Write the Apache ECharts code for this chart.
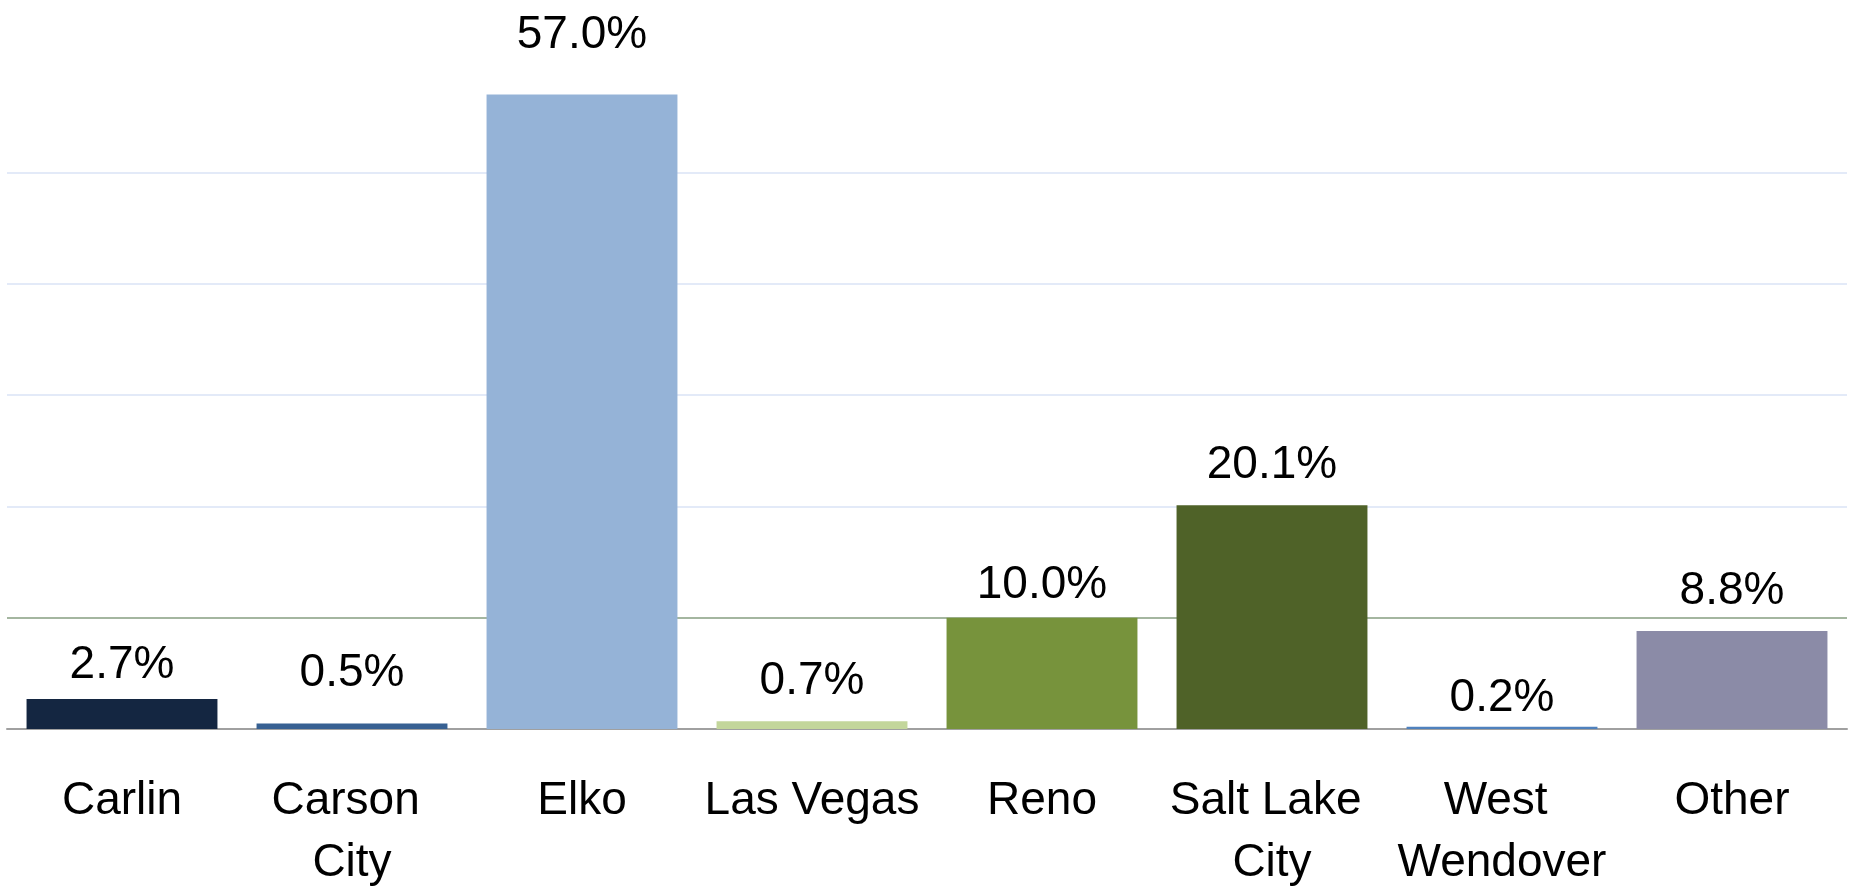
<!DOCTYPE html>
<html>
<head>
<meta charset="utf-8">
<script src="https://cdn.jsdelivr.net/npm/echarts@6/dist/echarts.min.js"></script>
<style>
html,body{margin:0;padding:0;background:#fff;}
#chart{width:1851px;height:886px;}
</style>
</head>
<body>
<div id="chart"></div>
<script>
const categories = ['Carlin', 'Carson City', 'Elko', 'Las Vegas', 'Reno', 'Salt Lake City', 'West Wendover', 'Other'];
const shares = [2.7, 0.5, 57.0, 0.7, 10.0, 20.1, 0.2, 8.8];
const yMin = 0, yMax = 60, yStep = 10;

// styling (not data)
const barColors = ['#142641', '#376092', '#95b3d7', '#c3d69b', '#77933c', '#4f6228', '#4f81bd', '#8b8ba7'];
const labelDistances = [11, 27, 36, 17, 9, 17, 5, 17];
const FONT = 'Liberation Sans';

const chart = echarts.init(document.getElementById('chart'));
chart.setOption({
  animation: false,
  backgroundColor: '#ffffff',
  grid: { left: 7, right: 4, top: 61, bottom: 157, containLabel: false, outerBoundsMode: 'none' },
  xAxis: {
    type: 'category',
    data: categories,
    axisLine: { show: true, lineStyle: { color: '#a0a0a0', width: 2 } },
    axisTick: { show: false },
    axisLabel: {
      interval: 0,
      margin: 41,
      fontFamily: FONT,
      fontSize: 46,
      lineHeight: 62,
      color: '#000',
      width: 228,
      overflow: 'break'
    }
  },
  yAxis: {
    type: 'value',
    min: yMin, max: yMax, interval: yStep,
    axisLine: { show: false },
    axisTick: { show: false },
    axisLabel: { show: false },
    splitLine: {
      show: true,
      lineStyle: {
        width: 2,
        color: ['rgba(0,0,0,0)', '#a4b6a0', '#e3eaf8', '#e3eaf8', '#e3eaf8', '#e3eaf8', 'rgba(0,0,0,0)']
      }
    }
  },
  series: [{
    type: 'bar',
    barCategoryGap: '17%',
    data: shares.map((v, i) => ({
      value: v,
      itemStyle: { color: barColors[i] },
      label: { distance: labelDistances[i] }
    })),
    label: {
      show: true,
      position: 'top',
      fontFamily: FONT,
      fontSize: 46,
      color: '#000',
      formatter: p => p.value.toFixed(1) + '%'
    }
  }]
});
</script>
</body>
</html>
